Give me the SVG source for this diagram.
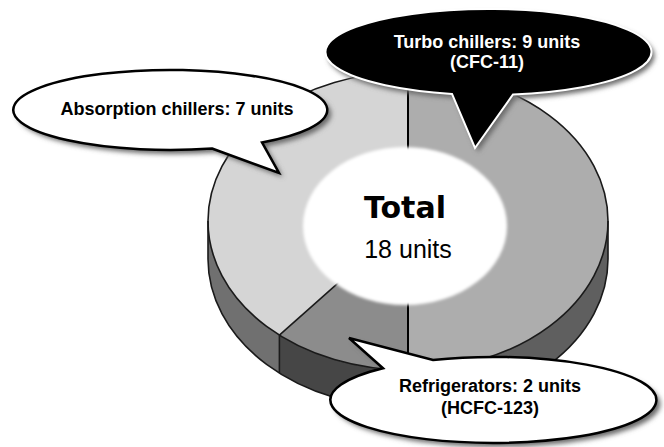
<svg xmlns="http://www.w3.org/2000/svg" width="664" height="447" viewBox="0 0 664 447">
<defs>
  <filter id="shadow" x="-10%" y="-30%" width="130%" height="170%">
    <feGaussianBlur stdDeviation="2.5"/>
  </filter>
  <filter id="soft" x="-10%" y="-10%" width="120%" height="120%">
    <feGaussianBlur stdDeviation="1.5"/>
  </filter>
</defs>
<style>
  .rim{fill:none;stroke:#1a1a1a;stroke-width:1.6;stroke-linejoin:round}
  .lbl{font-family:"Liberation Sans",Arial,sans-serif;font-weight:bold;font-size:18px;text-anchor:middle}
  .shadow{fill:#6a6a6a;filter:url(#shadow)}
  .bubble{fill:#fff;stroke:#000;stroke-width:2.5;stroke-linejoin:miter}
  .dark{fill:#000;stroke:#fff;stroke-width:2;stroke-linejoin:miter}
</style>
<rect width="664" height="447" fill="#fff"/>
<g id="pie">
  <path d="M208 221 A200 149 0 0 0 279.4 335.1 L279.4 373.1 A200 149 0 0 1 208 259 Z" fill="#707070"/>
  <path d="M279.4 335.1 A200 149 0 0 0 408 370 L408 408 A200 149 0 0 1 279.4 373.1 Z" fill="#464646"/>
  <path d="M408 370 A200 149 0 0 0 608 221 L608 259 A200 149 0 0 1 408 408 Z" fill="#5f5f5f"/>
  <path d="M408 221 L408 72 A200 149 0 0 1 408 370 Z" fill="#adadad"/>
  <path d="M408 221 L408 72 A200 149 0 0 0 279.4 335.1 Z" fill="#d5d5d5"/>
  <path d="M408 221 L279.4 335.1 A200 149 0 0 0 408 370 Z" fill="#8c8c8c"/>
  <ellipse cx="408" cy="221" rx="200" ry="149" class="rim"/>
  <path d="M208 221 L208 259 A200 149 0 0 0 608 259 L608 221" class="rim"/>
  <line x1="279.4" y1="335.1" x2="279.4" y2="373.1" class="rim"/>
  <line x1="408" y1="221" x2="279.4" y2="335.1" class="rim"/>
  <line x1="408" y1="72" x2="408" y2="370" stroke="#000" stroke-width="2"/>
  <ellipse cx="405" cy="226" rx="102" ry="79" fill="#fff" filter="url(#soft)"/>
  <text x="405" y="218" font-family="DejaVu Sans, sans-serif" font-weight="bold" font-size="30" text-anchor="middle">Total</text>
  <text x="408" y="258" font-family="Liberation Sans, Arial, sans-serif" font-size="25" text-anchor="middle">18 units</text>
</g>
<g id="callout-absorption">
  <path class="shadow" transform="translate(4,4)" d="M212 148.5 L279 173 L262 142.4 A157 40 0 1 0 212 148.5 Z"/>
  <path class="bubble" d="M212 148.5 L279 173 L262 142.4 A157 40 0 1 0 212 148.5 Z"/>
  <text class="lbl" x="177" y="115">Absorption chillers: 7 units</text>
</g>
<g id="callout-turbo">
  <path class="shadow" transform="translate(3,4)" d="M452 93.9 L475 148 L513 94.5 A163 43 0 1 0 452 93.9 Z"/>
  <path class="dark" d="M452 93.9 L475 148 L513 94.5 A163 43 0 1 0 452 93.9 Z"/>
  <text class="lbl" x="487" y="48" fill="#fff">Turbo chillers: 9 units</text>
  <text class="lbl" x="487" y="68" fill="#fff">(CFC-11)</text>
</g>
<g id="callout-refrigerators">
  <path class="shadow" transform="translate(4,4)" d="M383 368.3 L349 338 L433 360 A163 43 0 1 1 383 368.3 Z"/>
  <path class="bubble" d="M383 368.3 L349 338 L433 360 A163 43 0 1 1 383 368.3 Z"/>
  <text class="lbl" x="490" y="392">Refrigerators: 2 units</text>
  <text class="lbl" x="490" y="414">(HCFC-123)</text>
</g>
</svg>
